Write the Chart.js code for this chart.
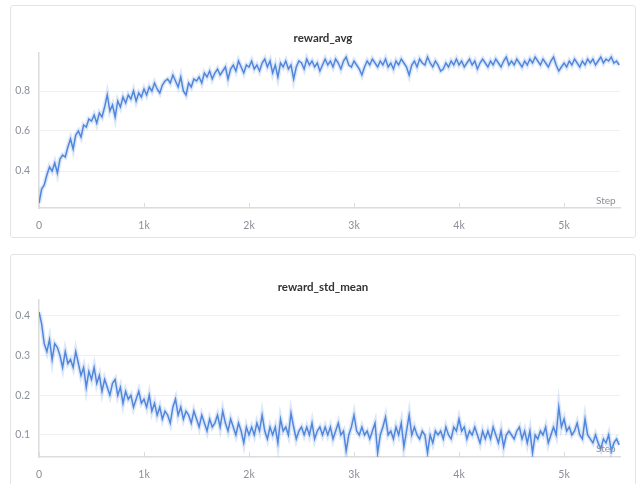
<!DOCTYPE html>
<html>
<head>
<meta charset="utf-8">
<script src="https://cdn.jsdelivr.net/npm/chart.js@4.4.1/dist/chart.umd.min.js"></script>
<style>
	body { margin: 0; background: #fff; width: 638px; height: 484px; overflow: hidden; font-family: Lato, sans-serif; }
	.panel { position: absolute; left: 10px; width: 624px; border: 1px solid #e4e4e4; border-radius: 3px; background: #fff; }
	#p1 { top: 5px; height: 231px; }
	#p2 { top: 254px; height: 240px; }
	.panel canvas { position: absolute; left: 0; top: 0; }
	.title { position: absolute; left: 0; width: 624px; text-align: center; font-size: 11.5px; font-weight: bold; color: #333; line-height: 14px; }
	.step { position: absolute; left: 585px; font-size: 10px; color: #8c8f99; }
</style>
</head>
<body>
<div class="panel" id="p1">
	<canvas id="c1" width="624" height="231"></canvas>
	<div class="title" style="top:25px">reward_avg</div>
	<div class="step" style="top:188px">Step</div>
</div>
<div class="panel" id="p2">
	<canvas id="c2" width="624" height="240"></canvas>
	<div class="title" style="top:25px">reward_std_mean</div>
	<div class="step" style="top:187px">Step</div>
</div>
<script>
// one value every 25 steps
const stepEvery = 25;

const rewardAvg = [
	0.24, 0.31, 0.33, 0.38, 0.42, 0.40, 0.44, 0.39, 0.46, 0.48,
	0.47, 0.52, 0.56, 0.51, 0.58, 0.60, 0.57, 0.63, 0.62, 0.66,
	0.65, 0.68, 0.64, 0.69, 0.67, 0.72, 0.78, 0.70, 0.73, 0.67,
	0.75, 0.72, 0.77, 0.74, 0.78, 0.76, 0.80, 0.75, 0.79, 0.77,
	0.81, 0.78, 0.82, 0.80, 0.84, 0.81, 0.79, 0.83, 0.85, 0.86,
	0.84, 0.88, 0.85, 0.82, 0.87, 0.80, 0.78, 0.84, 0.82, 0.86,
	0.85, 0.87, 0.84, 0.89, 0.87, 0.90, 0.86, 0.89, 0.91, 0.88,
	0.90, 0.92, 0.86, 0.91, 0.93, 0.90, 0.95, 0.92, 0.89, 0.93,
	0.92, 0.95, 0.91, 0.93, 0.90, 0.94, 0.96, 0.92, 0.95, 0.89,
	0.93, 0.87, 0.94, 0.92, 0.95, 0.91, 0.93, 0.86, 0.92, 0.95,
	0.94, 0.91, 0.96, 0.93, 0.95, 0.92, 0.94, 0.90, 0.93, 0.96,
	0.93, 0.95, 0.92, 0.96, 0.94, 0.91, 0.95, 0.97, 0.93, 0.92,
	0.95, 0.93, 0.91, 0.88, 0.92, 0.95, 0.93, 0.96, 0.94, 0.92,
	0.95, 0.93, 0.96, 0.92, 0.94, 0.91, 0.95, 0.93, 0.96, 0.94,
	0.92, 0.88, 0.93, 0.95, 0.92, 0.96, 0.94, 0.93, 0.97, 0.94,
	0.92, 0.95, 0.93, 0.90, 0.91, 0.94, 0.92, 0.95, 0.93, 0.96,
	0.93, 0.95, 0.92, 0.94, 0.96, 0.93, 0.95, 0.91, 0.94, 0.96,
	0.94, 0.92, 0.95, 0.93, 0.96, 0.94, 0.92, 0.95, 0.97, 0.93,
	0.95, 0.93, 0.96, 0.94, 0.92, 0.95, 0.93, 0.96, 0.94, 0.97,
	0.95, 0.93, 0.96, 0.94, 0.92, 0.95, 0.97, 0.93, 0.90, 0.92,
	0.94, 0.92, 0.95, 0.93, 0.96, 0.94, 0.92, 0.95, 0.93, 0.96,
	0.94, 0.96, 0.93, 0.95, 0.97, 0.94, 0.96, 0.95, 0.97, 0.94,
	0.95, 0.93
];

const rewardStdMean = [
	0.41, 0.38, 0.33, 0.31, 0.34, 0.29, 0.33, 0.32, 0.30, 0.27,
	0.31, 0.28, 0.29, 0.27, 0.31, 0.28, 0.25, 0.27, 0.22, 0.26,
	0.24, 0.27, 0.23, 0.25, 0.21, 0.24, 0.22, 0.20, 0.23, 0.24,
	0.20, 0.22, 0.18, 0.21, 0.19, 0.20, 0.17, 0.19, 0.21, 0.18,
	0.19, 0.17, 0.20, 0.16, 0.18, 0.15, 0.17, 0.14, 0.16, 0.15,
	0.13, 0.17, 0.19, 0.15, 0.17, 0.14, 0.16, 0.15, 0.13, 0.16,
	0.14, 0.12, 0.15, 0.13, 0.11, 0.14, 0.12, 0.13, 0.15, 0.12,
	0.16, 0.13, 0.11, 0.14, 0.12, 0.10, 0.13, 0.11, 0.08, 0.12,
	0.10, 0.12, 0.10, 0.13, 0.11, 0.15, 0.11, 0.09, 0.12, 0.10,
	0.12, 0.08, 0.14, 0.11, 0.12, 0.10, 0.155, 0.12, 0.09, 0.11,
	0.12, 0.10, 0.12, 0.10, 0.13, 0.09, 0.11, 0.12, 0.10, 0.12,
	0.10, 0.12, 0.09, 0.11, 0.13, 0.10, 0.11, 0.06, 0.10, 0.12,
	0.15, 0.11, 0.10, 0.12, 0.10, 0.11, 0.09, 0.11, 0.13, 0.055,
	0.10, 0.12, 0.145, 0.10, 0.11, 0.09, 0.12, 0.10, 0.13, 0.07,
	0.11, 0.15, 0.10, 0.12, 0.10, 0.09, 0.11, 0.10, 0.055, 0.10,
	0.08, 0.11, 0.10, 0.11, 0.09, 0.12, 0.10, 0.09, 0.12, 0.11,
	0.14, 0.11, 0.12, 0.09, 0.11, 0.10, 0.12, 0.10, 0.08, 0.11,
	0.09, 0.11, 0.09, 0.12, 0.10, 0.08, 0.11, 0.07, 0.10, 0.11,
	0.10, 0.09, 0.11, 0.12, 0.09, 0.11, 0.08, 0.11, 0.055, 0.10,
	0.09, 0.11, 0.10, 0.12, 0.08, 0.10, 0.12, 0.10, 0.17, 0.12,
	0.14, 0.11, 0.12, 0.10, 0.11, 0.13, 0.10, 0.09, 0.14, 0.10,
	0.09, 0.08, 0.10, 0.08, 0.065, 0.09, 0.08, 0.10, 0.06, 0.08,
	0.09, 0.075
];

const xTicks = [0, 1000, 2000, 3000, 4000, 5000];
const xTickLabels = ['0', '1k', '2k', '3k', '4k', '5k'];
const avgTicks = [0.4, 0.6, 0.8];
const stdTicks = [0.1, 0.2, 0.3, 0.4];

const lineColor = 'rgb(82, 134, 222)';
const bandColor = 'rgba(82, 134, 222, 0.2)';
const tickColor = '#8c8f99';

Chart.defaults.font.family = 'Lato, sans-serif';

const toPoints = (values) => values.map((v, i) => ({ x: i * stepEvery, y: v }));

window.makeRunChart = function(canvasId, values, yTicks, yMin, yMax, topPad, bottomPad) {
	const canvas = document.getElementById(canvasId);
	const points = toPoints(values);
	return new Chart(canvas, {
		type: 'line',
		data: {
			datasets: [
				{
					data: points,
					borderColor: bandColor,
					borderWidth: 4.5,
					pointRadius: 0,
					tension: 0
				},
				{
					data: points,
					borderColor: lineColor,
					borderWidth: 1.5,
					pointRadius: 0,
					tension: 0
				}
			]
		},
		options: {
			responsive: false,
			devicePixelRatio: 1,
			animation: false,
			layout: {
				padding: { left: 0, right: 15, top: topPad, bottom: bottomPad }
			},
			scales: {
				x: {
					type: 'linear',
					min: 0,
					max: 5533,
					afterBuildTicks: (scale) => { scale.ticks = xTicks.map(v => ({ value: v })); },
					afterFit: (scale) => { scale.height = 29; },
					ticks: {
						color: tickColor,
						font: { size: 10.5 },
						padding: 16,
						maxRotation: 0,
						autoSkip: false,
						callback: (v) => xTickLabels[xTicks.indexOf(v)]
					},
					grid: {
						drawOnChartArea: false,
						drawTicks: true,
						tickLength: -5,
						color: '#dcdcdc'
					},
					border: { color: '#dcdcdc', width: 1.5 }
				},
				y: {
					min: yMin,
					max: yMax,
					afterBuildTicks: (scale) => { scale.ticks = yTicks.map(v => ({ value: v })); },
					afterFit: (scale) => { scale.width = 28; },
					ticks: {
						color: tickColor,
						font: { size: 10.5 },
						padding: 9,
						callback: (v) => String(v)
					},
					grid: {
						drawTicks: false,
						color: '#f0f0f0'
					},
					border: { color: '#dcdcdc', width: 1.5 }
				}
			},
			plugins: {
				legend: { display: false },
				tooltip: { enabled: false },
				title: { display: false }
			}
		}
	});
};

window.makeRunChart('c1', rewardAvg, avgTicks, 0.215, 0.99, 47, 0);
window.makeRunChart('c2', rewardStdMean, stdTicks, 0.0445, 0.44, 45, 9);
</script>
</body>
</html>
